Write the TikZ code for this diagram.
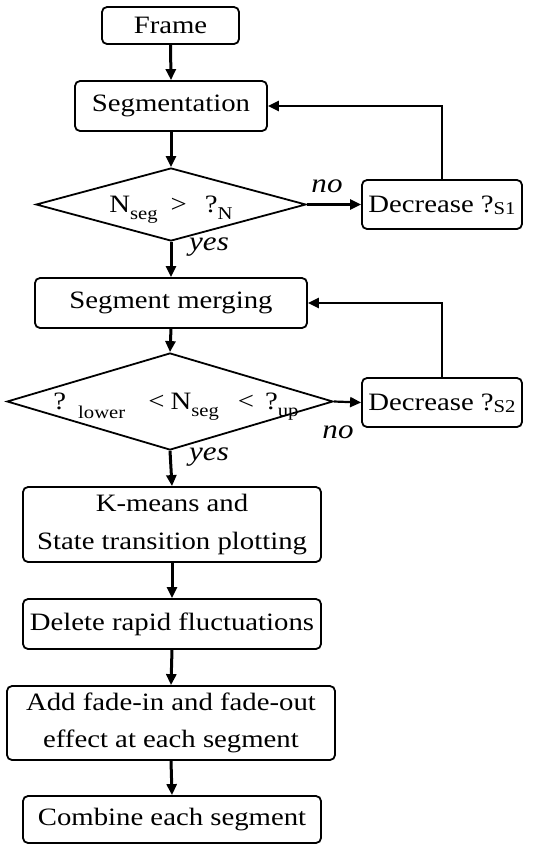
\documentclass[tikz,border=0pt]{standalone}
\usepackage{fontspec}
\setmainfont[FakeStretch=1.15]{Liberation Serif}
\usetikzlibrary{shapes.geometric,arrows.meta}
\newcommand\subtxt[2][0.6ex]{\raisebox{-#1}[0pt][0pt]{\fontsize{18}{18}\selectfont #2}}
\tikzset{
  box/.style={draw, rounded corners=5pt, line width=1.8pt, inner sep=0pt, align=center,
    font=\fontsize{25}{37.5}\selectfont},
  dia/.style={draw, diamond, line width=1.8pt, inner sep=0pt, aspect=3.5,
    font=\fontsize{25}{30}\selectfont},
  flow/.style={line width=3pt, -{Triangle[length=11pt,width=10pt]}},
  side/.style={line width=2.2pt, -{Triangle[length=11pt,width=10pt]}},
  back/.style={line width=2.2pt, -{Triangle[length=11pt,width=10pt]}},
  lab/.style={font=\fontsize{27}{27}\selectfont\itshape, inner sep=0pt},
}
\begin{document}
\begin{tikzpicture}[x=1pt,y=-1pt]
\useasboundingbox (0,0) rectangle (539,844);
\node[box, minimum width=137pt, minimum height=37pt] (frame) at (170.5,25.5) {Frame};
\node[box, minimum width=192pt, minimum height=50pt] (seg) at (171,106) {Segmentation};
\node[dia, minimum width=270pt, minimum height=73pt] (d1) at (171,204.5)
  {N\subtxt{seg}\hspace{13pt}>\hspace{18pt}?\subtxt{N}};
\node[box, minimum width=160pt, minimum height=49pt] (s1) at (442,204.5) {Decrease ?\subtxt[0.2ex]{S1}};
\node[box, minimum width=272pt, minimum height=50pt] (merge) at (171,303) {Segment merging};
\node[dia, minimum width=326pt, minimum height=97pt] (d2) at (170,401.5)
  {\hspace*{12pt}?\hspace{12pt}\subtxt[0.8ex]{lower}\hspace{23pt}<\hspace{6pt}N\subtxt{seg}\hspace{19pt}<\hspace{11pt}?\subtxt{up}};
\node[box, minimum width=160pt, minimum height=49pt] (s2) at (442,402.5) {Decrease ?\subtxt[0.2ex]{S2}};
\node[box, minimum width=298pt, minimum height=75pt] (km) at (172,524.5) {K-means and\\State transition plotting};
\node[box, minimum width=298pt, minimum height=50pt] (del) at (172,624) {Delete rapid fluctuations};
\node[box, minimum width=328pt, minimum height=74pt] (fade) at (171,723) {Add fade-in and fade-out\\effect at each segment};
\node[box, minimum width=298pt, minimum height=47pt] (comb) at (172,819.5) {Combine each segment};

\draw[flow] (frame.south) -- (seg.north);
\draw[flow] (seg.south) -- (d1.north);
\draw[side] (d1.east) -- (s1.west);
\draw[back] (s1.north) |- (seg.east);
\draw[flow] (d1.south) -- (merge.north);
\draw[flow] (merge.south) -- (d2.north);
\draw[side] (d2.east) -- (s2.west);
\draw[back] (s2.north) |- (merge.east);
\draw[flow] (d2.south) -- (km.north);
\draw[flow] (km.south) -- (del.north);
\draw[flow] (del.south) -- (fade.north);
\draw[flow] (fade.south) -- (comb.north);

\node[lab] (no1) at (327,186) {no};
\node[lab] (yes1) at (209,247) {yes};
\node[lab] (no2) at (338,432) {no};
\node[lab] (yes2) at (209,457) {yes};
\end{tikzpicture}
\end{document}
